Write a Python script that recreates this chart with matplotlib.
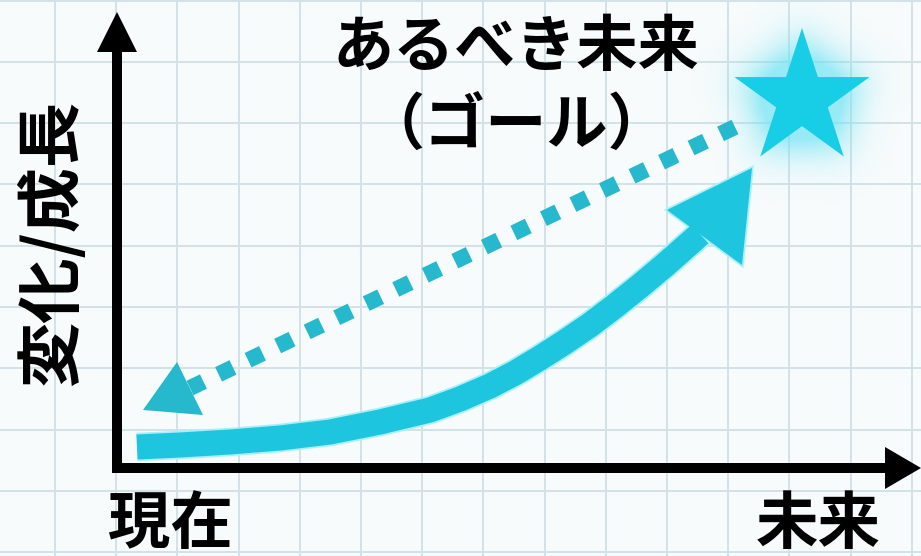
import numpy as np
import matplotlib.pyplot as plt
from matplotlib.patches import Polygon
from matplotlib.path import Path
from matplotlib.colors import to_rgb

plt.rcParams['font.family'] = ['Noto Sans CJK JP', 'DejaVu Sans']

# chart units: pixels from the axis corner (x -> time, y -> change / growth)
growth_t = [20, 63, 113, 163, 213, 263, 313, 343, 373, 398, 423, 448, 473,
            498, 523, 548, 573, 583]
growth_v = [21, 23, 26, 30, 36, 46, 58, 69, 82, 95, 110, 126, 143,
            162, 182, 203, 225, 234]
growth_head = [(635, 300), (550, 258), (625, 203)]

goal_t, goal_v = 685, 369
goal_r = 71

back_t = [618, 73]
back_v = [341, 80]
back_head = [(26, 58), (60, 106), (86, 53)]

title_lines = ['あるべき未来', '（ゴール）']
y_label = '変化/成長'
x_start_label = '現在'
x_end_label = '未来'

CYAN = '#1dc5de'
STAR = '#18cee7'
DOTS = '#26b9cd'
HALO = '#a6f0f9'
GRID = '#d3e2e7'
BG = '#f7fbfc'

fig = plt.figure(figsize=(9.21, 5.56), dpi=100)
fig.patch.set_facecolor(BG)
ax = fig.add_axes([0, 0, 1, 1])
ax.set_facecolor(BG)
ax.axis('off')

# graph paper background
for gx in np.arange(-62, 805, 61.2):
    ax.axvline(gx, color=GRID, lw=1.4, zorder=0)
for gy in np.arange(467.5, -90, -61.3):
    ax.axhline(gy, color=GRID, lw=1.4, zorder=0)

# axes with arrow heads
ax.plot([0, 0, 768], [416, 0, 0], color='black', lw=7.2,
        solid_joinstyle='miter', solid_capstyle='butt', zorder=3)
ax.add_patch(Polygon([(-20, 416), (20, 416), (0, 456)], closed=True,
                     facecolor='black', edgecolor='none', zorder=3))
ax.add_patch(Polygon([(768, -21), (768, 21), (804, 0)], closed=True,
                     facecolor='black', edgecolor='none', zorder=3))

# goal star with a soft glow (blurred star mask)
ang = np.deg2rad(90 + 36 * np.arange(10))
rad = np.where(np.arange(10) % 2 == 0, goal_r, goal_r * 0.382)
sx = goal_t + rad * np.cos(ang)
sy = goal_v + rad * np.sin(ang)
star_xy = np.column_stack([sx, sy])

px = np.arange(goal_t - 170, goal_t + 171)
py = np.arange(goal_v - 170, goal_v + 171)
PX, PY = np.meshgrid(px, py)
inside = Path(star_xy).contains_points(
    np.column_stack([PX.ravel(), PY.ravel()])).reshape(PX.shape).astype(float)
kern = np.exp(-0.5 * (np.arange(-66, 67) / 22.0) ** 2)
kern /= kern.sum()
blur = np.apply_along_axis(lambda r: np.convolve(r, kern, mode='same'), 1, inside)
blur = np.apply_along_axis(lambda c: np.convolve(c, kern, mode='same'), 0, blur)
glow = np.zeros(PX.shape + (4,))
glow[..., :3] = to_rgb('#6fe3f4')
glow[..., 3] = np.clip(blur * 1.8, 0, 0.7)
ax.imshow(glow, extent=(px[0], px[-1], py[0], py[-1]), origin='lower',
          interpolation='bilinear', aspect='auto', zorder=1)
ax.add_patch(Polygon(star_xy, closed=True, facecolor=STAR,
                     edgecolor='none', zorder=4))

# growth curve (solid arrow)
ax.plot(growth_t, growth_v, color=HALO, lw=20.5, solid_joinstyle='round',
        solid_capstyle='butt', zorder=2)
ax.add_patch(Polygon(growth_head, closed=True, facecolor=HALO,
                     edgecolor=HALO, lw=2.5, zorder=2))
ax.plot(growth_t, growth_v, color=CYAN, lw=18, solid_joinstyle='round',
        solid_capstyle='butt', zorder=3)
ax.add_patch(Polygon(growth_head, closed=True, facecolor=CYAN,
                     edgecolor='none', zorder=3))

# dotted arrow back to the present
ax.plot(back_t, back_v, color=DOTS, lw=11.5, linestyle=(0, (1, 1.05)),
        dash_capstyle='butt', zorder=3)
ax.add_patch(Polygon(back_head, closed=True, facecolor=DOTS,
                     edgecolor='none', zorder=3))

# texts
ax.text(399, 420, title_lines[0], fontsize=44, fontweight='bold',
        ha='center', va='center', zorder=5)
ax.text(399, 341, title_lines[1], fontsize=44, fontweight='bold',
        ha='center', va='center', zorder=5)
ax.text(-65, 225, y_label, fontsize=47, fontweight='bold', rotation=90,
        ha='center', va='center', zorder=5)
ax.text(53, -25, x_start_label, fontsize=45, fontweight='bold',
        ha='center', va='top', zorder=5)
ax.text(701, -25, x_end_label, fontsize=45, fontweight='bold',
        ha='center', va='top', zorder=5)

ax.set_xlim(-117, 804)
ax.set_ylim(-88, 468)

fig.savefig('out.png', dpi=100, facecolor=fig.get_facecolor())
